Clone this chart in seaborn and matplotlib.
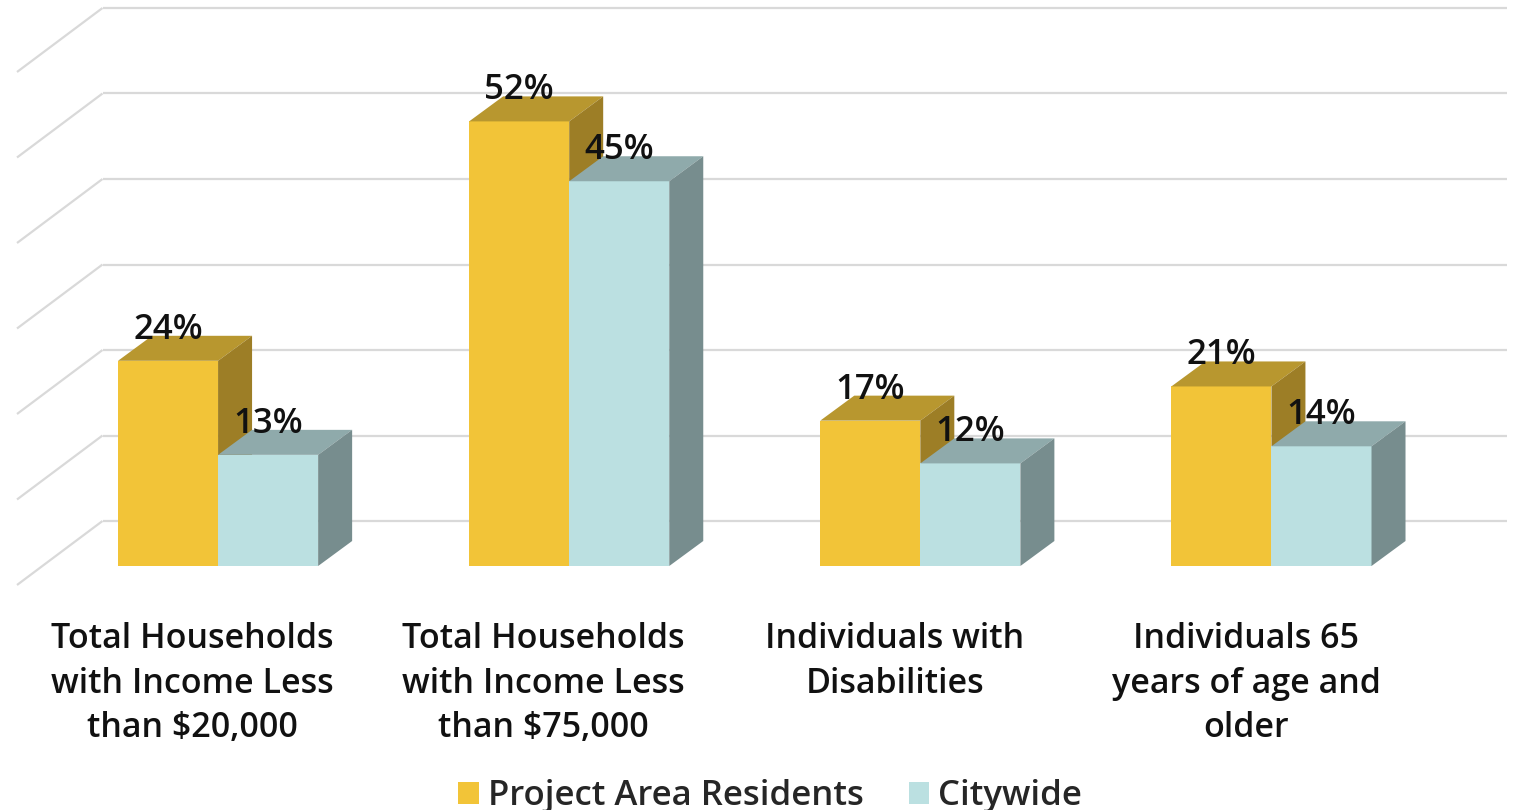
import matplotlib
matplotlib.use("Agg")
import matplotlib.pyplot as plt
import seaborn as sns
import pandas as pd
import numpy as np
from matplotlib.patches import Polygon, Patch
from matplotlib.lines import Line2D
from matplotlib.transforms import IdentityTransform

# --- data -----------------------------------------------------------------
categories = [
    "Total Households\nwith Income Less\nthan $20,000",
    "Total Households\nwith Income Less\nthan $75,000",
    "Individuals with\nDisabilities",
    "Individuals 65\nyears of age and\nolder",
]
series = ["Project Area Residents", "Citywide"]
project_area = [24, 52, 17, 21]
citywide = [13, 45, 12, 14]
grid_values = [0, 10, 20, 30, 40, 50, 60]

# --- styling ----------------------------------------------------------------
front_colors = {"Project Area Residents": "#F2C438", "Citywide": "#BBE0E1"}
top_colors = {"Project Area Residents": "#B8972F", "Citywide": "#8FAAAB"}
side_colors = {"Project Area Residents": "#9D7E26", "Citywide": "#778D8E"}
grid_color = "#D9D9D9"

DPI = 100
W, H = 1519, 810
# 3-D depth offsets in pixels (x right, y up)
BAR_DEPTH = np.array([34.0, 25.0])
WALL = np.array([60.0, 45.0])
FLOOR_FRONT = np.array([-25.5, -19.0])

sns.set_theme(style="white")
plt.rcParams["font.family"] = ["Open Sans", "DejaVu Sans"]

df = pd.DataFrame({
    "category": categories * 2,
    "series": [series[0]] * len(categories) + [series[1]] * len(categories),
    "value": project_area + citywide,
})

fig = plt.figure(figsize=(W / DPI, H / DPI), dpi=DPI)
ax = fig.add_axes([42.5 / W, 1 - 566 / H, (1447 - 42.5) / W, 513 / H])

sns.barplot(
    data=df, x="category", y="value", hue="series",
    order=categories, hue_order=series, palette=front_colors,
    width=0.57, saturation=1, edgecolor="none", legend=False, ax=ax,
)
ax.set_xlim(-0.5, len(categories) - 0.5)
ax.set_ylim(0, 60)
ax.set_axis_off()


def to_px(x, y):
    return ax.transData.transform((x, y))


def add_line(p0, p1):
    ln = Line2D([p0[0], p1[0]], [p0[1], p1[1]], transform=IdentityTransform(),
                color=grid_color, lw=1.6, zorder=0.5, clip_on=False,
                solid_capstyle="butt")
    ax.add_line(ln)


# back wall and left wall gridlines
x_lo, x_hi = ax.get_xlim()
for v in grid_values:
    left = to_px(x_lo, v)
    right = to_px(x_hi, v)
    add_line(left + WALL, right + WALL)
    add_line(left + FLOOR_FRONT, left + WALL)

# extrude every bar into a box: top and side faces
for level, container in enumerate(ax.containers):
    name = series[level]
    for patch in container.patches:
        z = 2 + level
        patch.set_zorder(z)
        x0, w, h = patch.get_x(), patch.get_width(), patch.get_height()
        br = to_px(x0 + w, 0)
        tl = to_px(x0, h)
        tr = to_px(x0 + w, h)
        top = Polygon([tl, tr, tr + BAR_DEPTH, tl + BAR_DEPTH], closed=True,
                      facecolor=top_colors[name], edgecolor="none",
                      transform=IdentityTransform(), zorder=z, clip_on=False)
        side = Polygon([br, tr, tr + BAR_DEPTH, br + BAR_DEPTH], closed=True,
                       facecolor=side_colors[name], edgecolor="none",
                       transform=IdentityTransform(), zorder=z, clip_on=False)
        ax.add_patch(top)
        ax.add_patch(side)
        ax.annotate(f"{h:.0f}%", xy=(x0 + w / 2, h), xytext=(0, 31 * 72 / DPI),
                    textcoords="offset points", ha="center", va="center",
                    fontsize=25, fontweight="semibold", color="#111111",
                    zorder=10, annotation_clip=False)

# category labels sit on the front edge of the floor
for i, cat in enumerate(categories):
    ax.annotate(cat, xy=(i, 0),
                xytext=(FLOOR_FRONT[0] * 72 / DPI, -56 * 72 / DPI),
                textcoords="offset points", ha="center", va="top",
                multialignment="center", linespacing=1.41,
                fontsize=24.5, fontweight="semibold", color="#111111",
                annotation_clip=False)

handles = [Patch(facecolor=front_colors[s], edgecolor="none") for s in series]
fig.legend(handles, series, loc="center", bbox_to_anchor=(770 / W, 1 - 796 / H),
           ncol=2, frameon=False, prop={"size": 25, "weight": "semibold"},
           handlelength=0.6, handleheight=0.6, handletextpad=0.25,
           columnspacing=1.3, borderpad=0, borderaxespad=0)

fig.savefig("out.png", dpi=DPI, facecolor="white")
